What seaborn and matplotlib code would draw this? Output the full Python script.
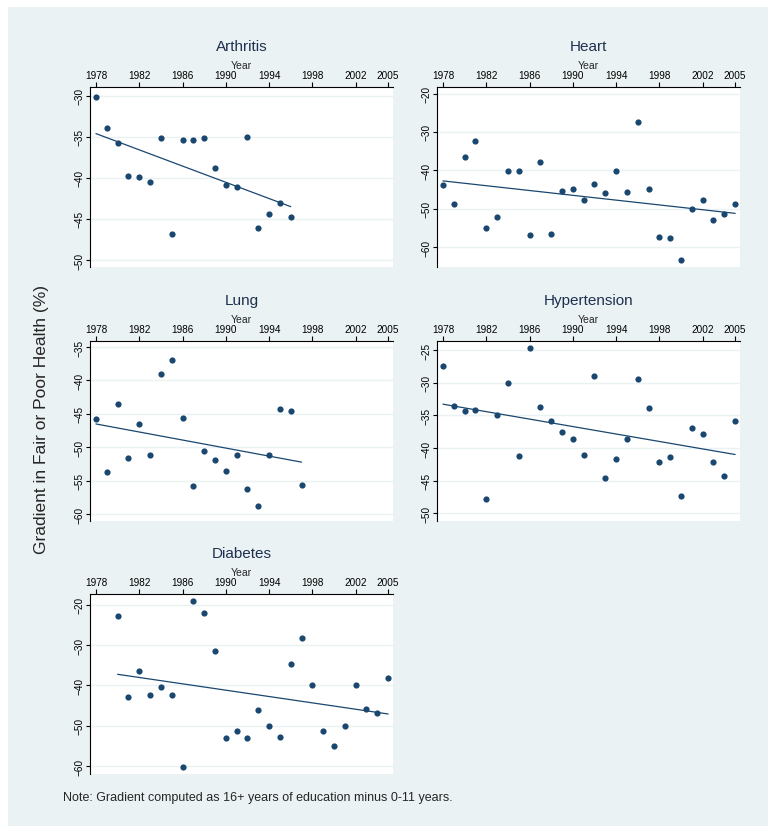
import matplotlib
matplotlib.use("Agg")
import matplotlib.pyplot as plt
import seaborn as sns
from matplotlib.patches import Rectangle

# Survey years
years = [1978, 1979, 1980, 1981, 1982, 1983, 1984, 1985, 1986, 1987,
         1988, 1989, 1990, 1991, 1992, 1993, 1994, 1995, 1996, 1997,
         1998, 1999, 2000, 2001, 2002, 2003, 2004, 2005]

# Gradient in fair or poor health (%)
arthritis = [-30.2, -33.9, -35.8, -39.8, -39.9, -40.5, -35.2, -46.8, -35.4, -35.4,
             -35.1, -38.8, -40.9, -41.1, -35.0, -46.1, -44.4, -43.1, -44.8]
heart = [-43.9, -48.9, -36.6, -32.3, -55.0, -52.2, -40.3, -40.3, -56.9, -37.8,
         -56.5, -45.4, -44.8, -47.7, -43.6, -45.8, -40.3, -45.7, -27.5, -45.0,
         -57.5, -57.7, -63.4, -50.0, -47.8, -52.9, -51.3, -48.7]
lung = [-45.7, -53.7, -43.5, -51.6, -46.5, -51.1, -39.1, -36.9, -45.6, -55.7,
        -50.5, -51.9, -53.6, -51.1, -56.2, -58.8, -51.2, -44.2, -44.5, -55.6]
hypertension = [-27.4, -33.6, -34.4, -34.2, -47.9, -35.0, -30.0, -41.2, -24.6, -33.7,
                -35.8, -37.5, -38.7, -41.1, -28.9, -44.6, -41.7, -38.6, -29.4, -33.8,
                -42.2, -41.4, -47.3, -36.9, -37.9, -42.1, -44.3, -35.9]
# diabetes starts in 1980
diabetes = [-22.8, -42.9, -36.4, -42.5, -40.5, -42.5, -60.2, -19.0, -22.0, -31.4,
            -53.0, -51.3, -53.0, -46.0, -50.2, -52.9, -34.6, -28.2, -40.0, -51.4,
            -55.0, -50.1, -39.8, -45.8, -46.8, -38.1]

xticks = [1978, 1982, 1986, 1990, 1994, 1998, 2002, 2005]

W, H = 778, 837
navy = "#1a476f"
bg = "#eaf2f3"

sns.set_style("white")
plt.rcParams["font.family"] = ["Liberation Sans", "DejaVu Sans"]

fig = plt.figure(figsize=(W / 100, H / 100), dpi=100, facecolor="white")
fig.patches.append(Rectangle((8 / W, 10 / H), 760 / W, 819 / H, transform=fig.transFigure,
                             facecolor=bg, edgecolor="none", zorder=-10))

# name, x values, y values, plot box in pixels (left, top, right, bottom), ylim, yticks
panels = [
    ("Arthritis", years[:len(arthritis)], arthritis, (90, 88, 393, 268), (-50.86, -28.94), [-50, -45, -40, -35, -30]),
    ("Heart", years, heart, (437, 88, 740, 268), (-65.2, -18.3), [-60, -50, -40, -30, -20]),
    ("Lung", years[:len(lung)], lung, (90, 342, 393, 522), (-61.0, -34.1), [-60, -55, -50, -45, -40, -35]),
    ("Hypertension", years, hypertension, (437, 342, 740, 522), (-51.2, -23.6), [-50, -45, -40, -35, -30, -25]),
    ("Diabetes", years[2:], diabetes, (90, 595, 393, 775), (-62.0, -17.3), [-60, -50, -40, -30, -20]),
]

for name, xs, ys, box, ylim, yticks in panels:
    l, t, r, b = box
    ax = fig.add_axes([l / W, 1 - b / H, (r - l) / W, (b - t) / H])
    ax.set_facecolor("white")
    sns.regplot(x=xs, y=ys, ax=ax, ci=None, color=navy,
                scatter_kws={"s": 20, "linewidths": 0, "alpha": 1, "zorder": 3},
                line_kws={"lw": 0.9, "zorder": 2})
    ax.set_xlim(1977.45, 2005.45)
    ax.set_ylim(*ylim)
    ax.set_xticks(xticks)
    ax.set_yticks(yticks)
    ax.xaxis.tick_top()
    ax.xaxis.set_label_position("top")
    ax.set_xlabel("Year", fontsize=7.5, labelpad=1.5)
    ax.set_ylabel("")
    for side in ["right", "bottom"]:
        ax.spines[side].set_visible(False)
    for side in ["top", "left"]:
        ax.spines[side].set_color("black")
        ax.spines[side].set_linewidth(0.8)
    ax.tick_params(axis="x", top=True, bottom=False, length=3.5, width=0.8, pad=1.5,
                   labelsize=7.2, colors="black")
    ax.tick_params(axis="y", left=True, length=3, width=0.8, pad=1, labelsize=7.2,
                   labelrotation=90, colors="black")
    for lab in ax.get_yticklabels():
        lab.set_va("center")
    ax.yaxis.grid(True, color=bg, lw=1)
    ax.xaxis.grid(False)
    ax.set_axisbelow(True)
    fig.text((l + r) / 2 / W, 1 - (t - 41) / H, name, ha="center", va="center",
             fontsize=11, color="#1e3050")

fig.text(42 / W, 1 - 420 / H, "Gradient in Fair or Poor Health (%)", rotation=90,
         ha="center", va="center", fontsize=12.5)
fig.text(63 / W, 1 - 798 / H, "Note: Gradient computed as 16+ years of education minus 0-11 years.",
         ha="left", va="center", fontsize=9)

fig.savefig("out.png", dpi=100, facecolor="white")
